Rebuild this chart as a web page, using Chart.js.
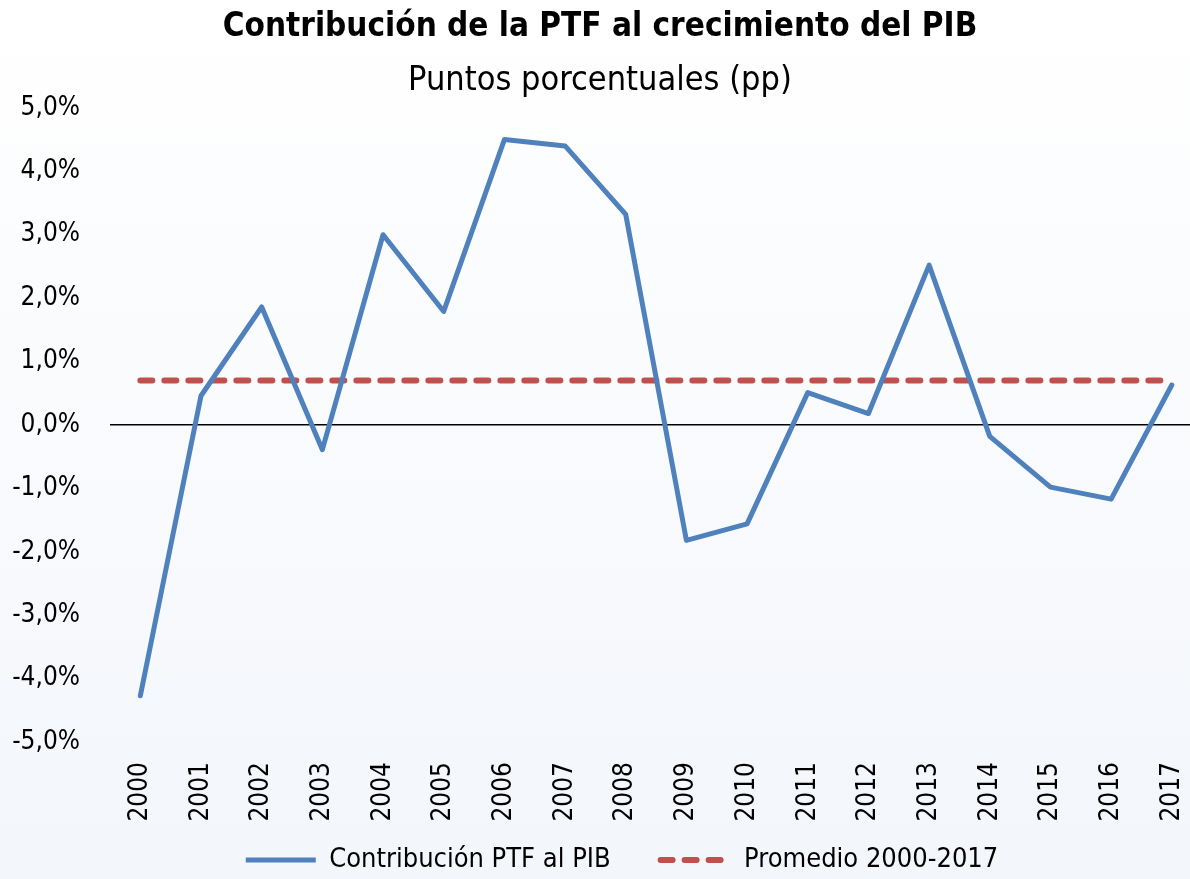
<!DOCTYPE html>
<html>
<head>
<meta charset="utf-8">
<script src="https://cdn.jsdelivr.net/npm/chart.js@4/dist/chart.umd.min.js"></script>
<style>
  html, body { margin: 0; padding: 0; background: #ffffff; }
  #wrap { width: 1190px; height: 879px; position: relative; }
  canvas { display: block; }
</style>
</head>
<body>
<div id="wrap"><canvas id="c" width="1190" height="879"></canvas></div>
<script>
// ---- Data ----
const years = ['2000','2001','2002','2003','2004','2005','2006','2007','2008',
               '2009','2010','2011','2012','2013','2014','2015','2016','2017'];
const contribucionPTF = [-4.27, 0.46, 1.86, -0.39, 3.00, 1.79, 4.50, 4.40, 3.32,
                         -1.82, -1.56, 0.51, 0.18, 2.52, -0.18, -0.98, -1.17, 0.63];
const promedio = [0.70, 0.70, 0.70, 0.70, 0.70, 0.70, 0.70, 0.70, 0.70,
                  0.70, 0.70, 0.70, 0.70, 0.70, 0.70, 0.70, 0.70, 0.70];
const yTicks = [-5, -4, -3, -2, -1, 0, 1, 2, 3, 4, 5];
const titleText = 'Contribución de la PTF al crecimiento del PIB';
const subtitleText = 'Puntos porcentuales (pp)';
const seriesNames = ['Contribución PTF al PIB', 'Promedio 2000-2017'];

const FONT = "'Liberation Sans Narrow', 'Arial Narrow', 'DejaVu Sans Condensed', sans-serif";

const bgPlugin = {
  id: 'bg',
  beforeDraw(chart) {
    const ctx = chart.ctx;
    const g = ctx.createLinearGradient(0, 0, 0, chart.height);
    g.addColorStop(0, '#ffffff');
    g.addColorStop(1, '#f3f6fb');
    ctx.save();
    ctx.fillStyle = g;
    ctx.fillRect(0, 0, chart.width, chart.height);
    ctx.restore();
  }
};

// place the legend row as in the original
const legendShift = {
  id: 'legendShift',
  afterLayout(chart) {
    const lg = chart.legend;
    if (lg) {
      lg.left += 22;
      lg.right += 22;
      lg.top -= 30.5;
      lg.bottom -= 30.5;
    }
  }
};

new Chart(document.getElementById('c'), {
  type: 'line',
  data: {
    datasets: [
      {
        label: seriesNames[0],
        data: contribucionPTF.map((v, i) => ({ x: i, y: v })),
        borderColor: '#4f81bd',
        backgroundColor: '#4f81bd',
        borderWidth: 5,
        pointRadius: 0,
        borderCapStyle: 'round',
        borderJoinStyle: 'round',
        tension: 0
      },
      {
        label: seriesNames[1],
        data: promedio.map((v, i) => ({ x: i, y: v })),
        borderColor: '#c0504d',
        backgroundColor: '#c0504d',
        borderWidth: 6,
        borderDash: [12, 12],
        borderCapStyle: 'round',
        pointRadius: 0,
        tension: 0
      }
    ]
  },
  options: {
    responsive: false,
    animation: false,
    layout: { padding: { left: 10, right: 0, top: 2, bottom: -35 } },
    scales: {
      x: {
        type: 'linear',
        min: -0.5,
        max: 17.3,
        afterBuildTicks(scale) {
          scale.ticks = years.map((y, i) => ({ value: i }));
        },
        afterFit(scale) {
          scale.height = 85;
          scale.paddingLeft = 0;
          scale.paddingRight = 0;
        },
        grid: { display: false, drawTicks: false },
        border: { display: false },
        ticks: {
          autoSkip: false,
          minRotation: 90,
          maxRotation: 90,
          padding: 20,
          color: '#000',
          font: { family: FONT, size: 26 },
          callback: (v) => years[v]
        }
      },
      y: {
        min: -5,
        max: 5,
        afterBuildTicks(scale) {
          scale.ticks = yTicks.map(v => ({ value: v }));
        },
        afterFit(scale) { scale.width = 100; },
        grid: {
          drawTicks: false,
          color: (ctx) => (ctx.tick && ctx.tick.value === 0 ? '#000000' : 'rgba(0,0,0,0)'),
          lineWidth: 1.6
        },
        border: { display: false },
        ticks: {
          padding: 30,
          color: '#000',
          font: { family: FONT, size: 26 },
          callback: (v) => v.toFixed(1).replace('.', ',') + '%'
        }
      }
    },
    plugins: {
      title: {
        display: true,
        text: titleText,
        color: '#000',
        font: { family: FONT, size: 33, weight: 'bold' },
        padding: { top: 6, bottom: 13.5 }
      },
      subtitle: {
        display: true,
        text: subtitleText,
        color: '#000',
        font: { family: FONT, size: 34 },
        padding: { top: 0, bottom: 6 }
      },
      legend: {
        position: 'bottom',
        labels: {
          usePointStyle: true,
          pointStyle: 'line',
          pointStyleWidth: 70,
          boxHeight: 27,
          padding: 50,
          color: '#000',
          font: { family: FONT, size: 27 },
          generateLabels(chart) {
            const items = Chart.defaults.plugins.legend.labels.generateLabels(chart);
            items.forEach((it) => {
              const ds = chart.data.datasets[it.datasetIndex];
              it.lineDash = ds.borderDash || [];
              it.lineCap = ds.borderDash ? 'round' : 'butt';
              it.lineWidth = ds.borderWidth;
              it.strokeStyle = ds.borderColor;
              it.fillStyle = ds.borderColor;
            });
            return items;
          }
        }
      },
      tooltip: { enabled: false }
    }
  },
  plugins: [bgPlugin, legendShift]
});
</script>
</body>
</html>
